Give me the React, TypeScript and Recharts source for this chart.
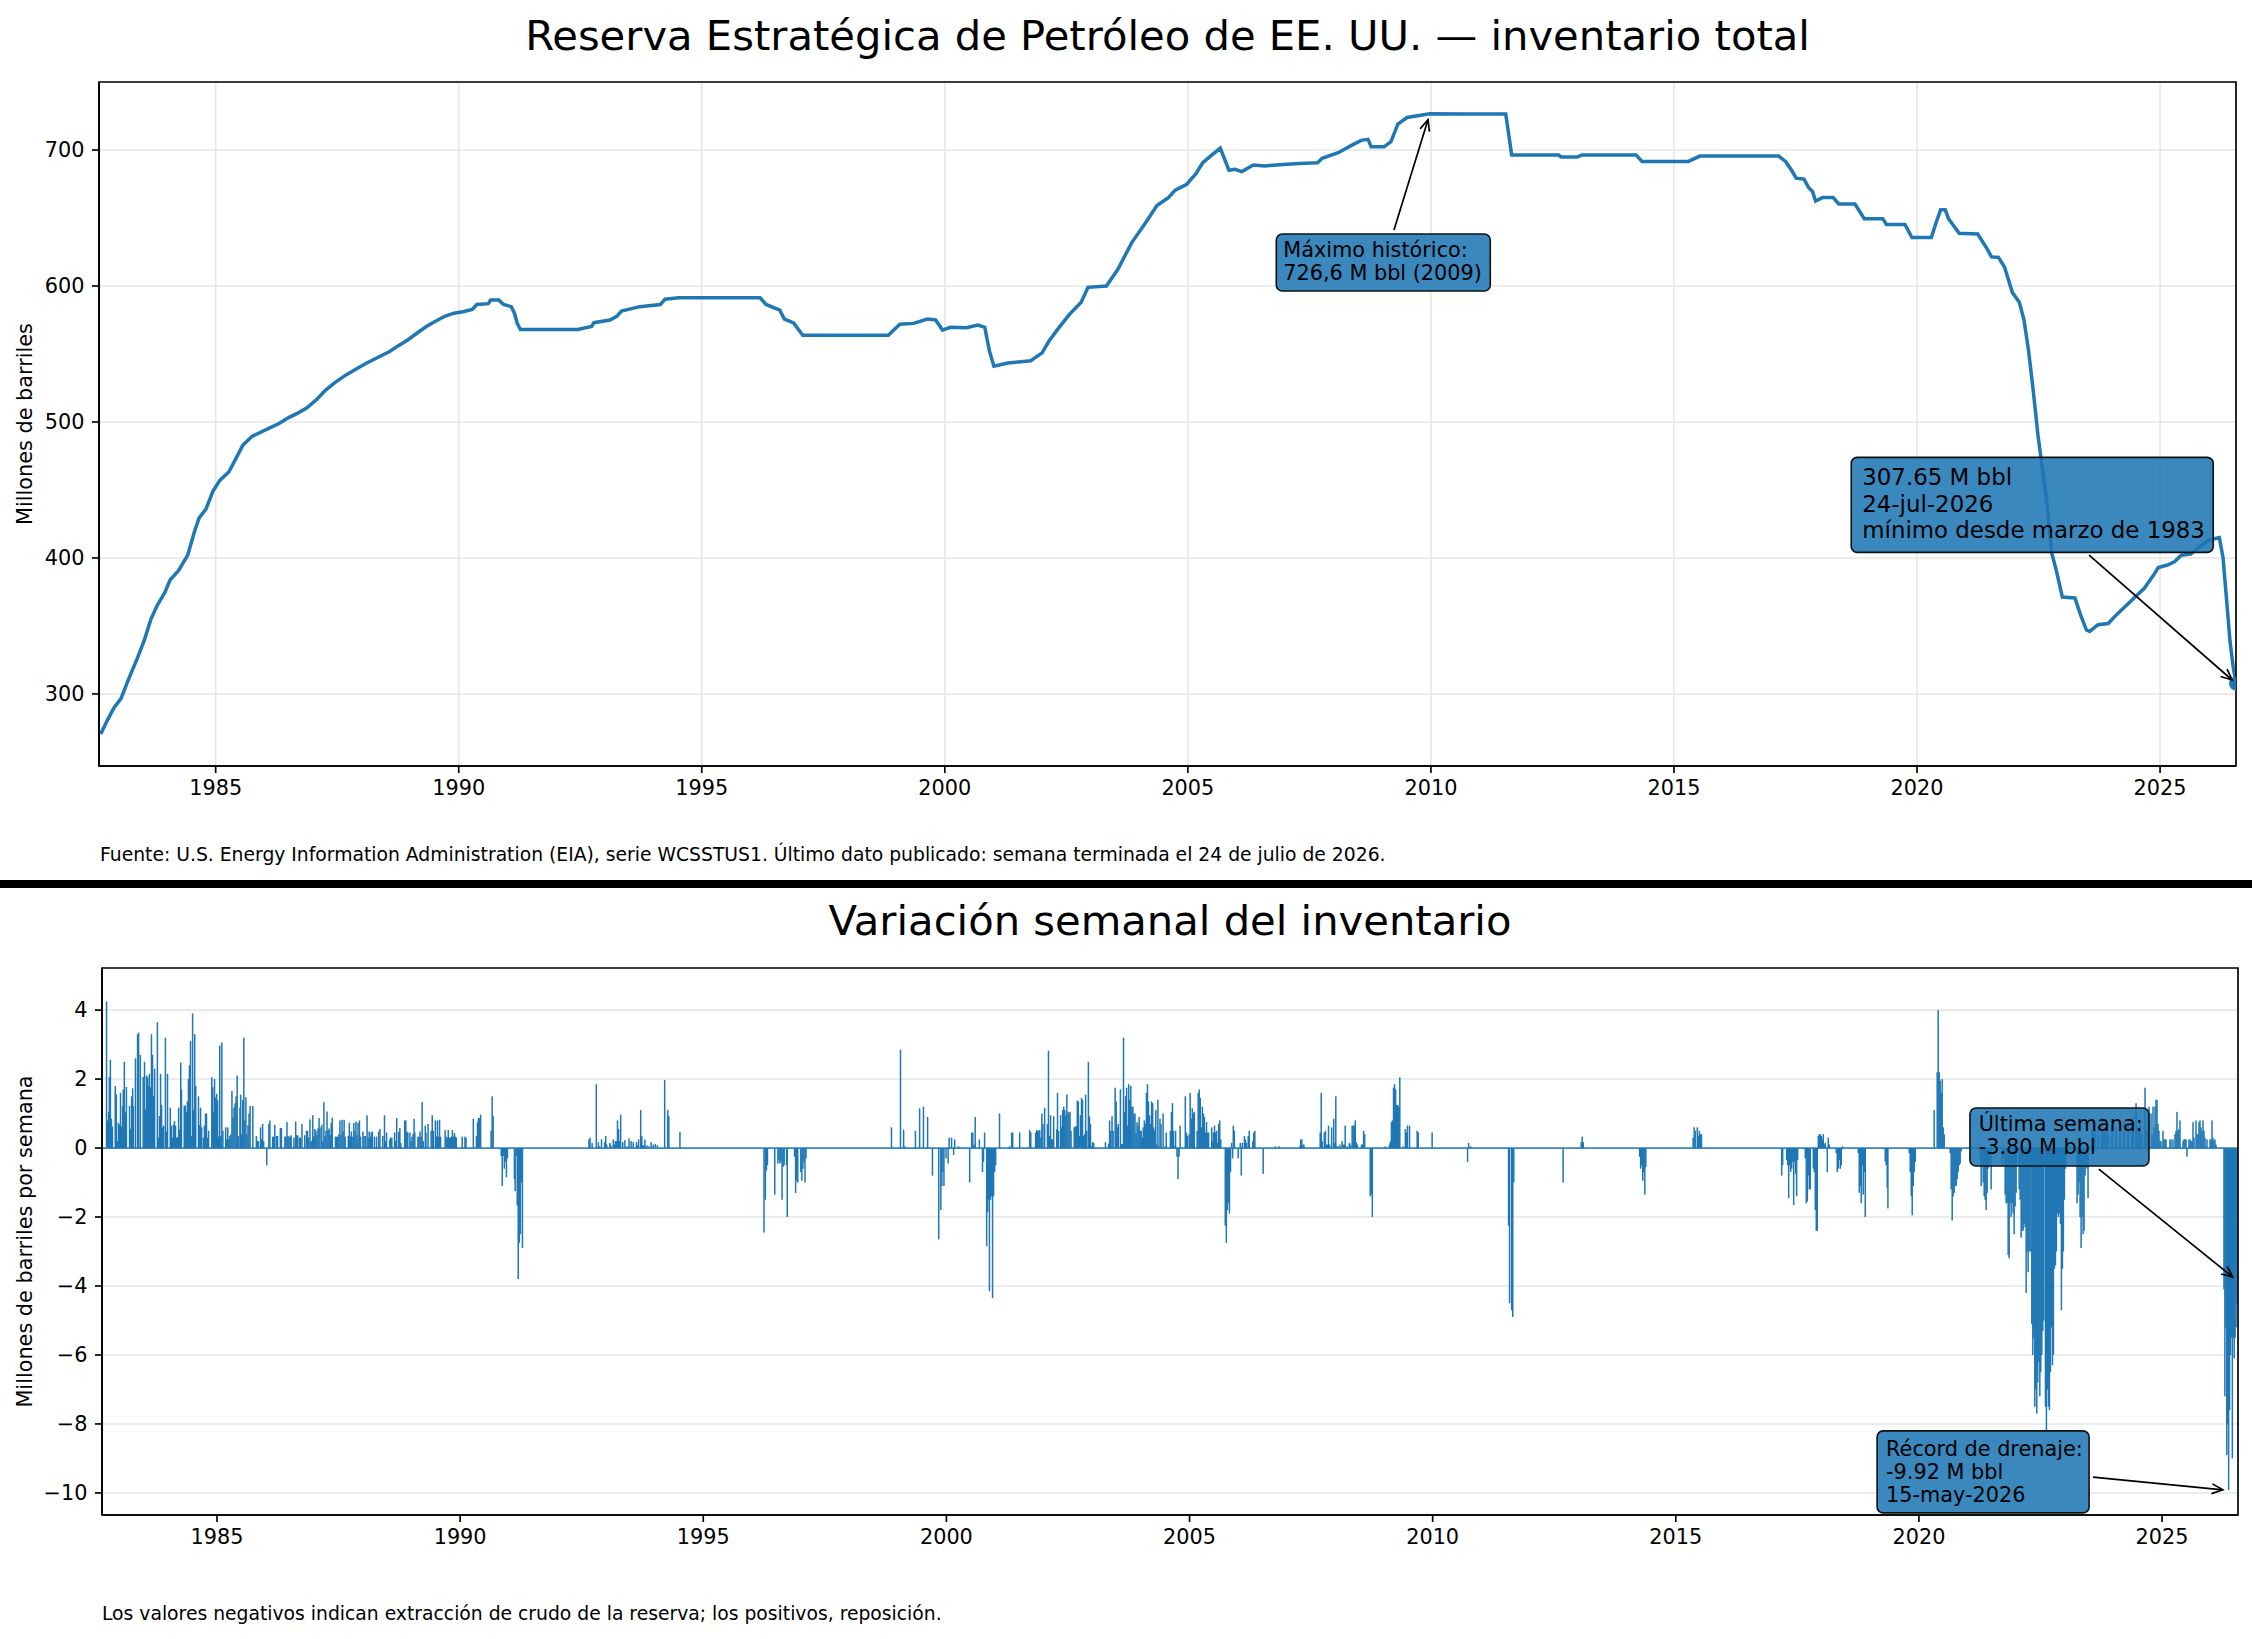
import {
  Bar,
  BarChart,
  CartesianGrid,
  Line,
  LineChart,
  ReferenceArea,
  ReferenceDot,
  ReferenceLine,
  XAxis,
  YAxis,
} from 'recharts';

/**
 * Reserva Estratégica de Petróleo de EE. UU.: inventario total (línea) y
 * variación semanal (barras).
 */

// ---------------------------------------------------------------------------
// Inventario total, millones de barriles: [año decimal, valor]
// ---------------------------------------------------------------------------
const INVENTARIO_1982_1991: [number, number][] = [
  [1982.636, 270.5], [1982.771, 280.6], [1982.913, 290], [1983.055, 296.8], [1983.196, 309.7],
  [1983.385, 326], [1983.527, 339], [1983.669, 355], [1983.791, 364.7], [1983.952, 374.4],
  [1984.065, 384], [1984.235, 390.6], [1984.424, 402], [1984.566, 419.7], [1984.66, 429.4],
  [1984.802, 436], [1984.943, 449], [1985.085, 457], [1985.274, 463.4], [1985.415, 473],
  [1985.557, 482.8], [1985.746, 489.3], [1985.935, 492.6], [1986.124, 495.8], [1986.313, 499],
  [1986.501, 503.2], [1986.69, 506.5], [1986.879, 510.4], [1987.068, 516.2], [1987.257, 523.3],
  [1987.446, 528.8], [1987.682, 534.6], [1987.918, 539.5], [1988.107, 543.4], [1988.343, 547.6],
  [1988.579, 551.8], [1988.768, 556.3], [1988.957, 560.5], [1989.145, 565.4], [1989.334, 570.2],
  [1989.523, 574.1], [1989.712, 577.7], [1989.901, 580], [1990.09, 581], [1990.279, 582.8],
  [1990.373, 586.4], [1990.609, 587], [1990.656, 589.6], [1990.826, 589.6], [1990.921, 586.4],
  [1991.081, 584.8], [1991.147, 580], [1991.204, 572.5], [1991.27, 568],
];

const INVENTARIO_1992_2001: [number, number][] = [
  [1992.45, 568], [1992.734, 570.2], [1992.781, 573], [1993.111, 575], [1993.253, 577.7],
  [1993.347, 581.6], [1993.725, 584.8], [1994.15, 586.4], [1994.245, 590.3], [1994.528, 591.3],
  [1996.199, 591.3], [1996.322, 586.4], [1996.605, 582.2], [1996.7, 575.7], [1996.889, 572.8],
  [1997.077, 563.8], [1998.839, 563.8], [1998.933, 567], [1999.075, 571.8], [1999.358, 572.5],
  [1999.641, 575.7], [1999.811, 575], [1999.953, 567.6], [2000.113, 569.6], [2000.444, 569.3],
  [2000.68, 571.2], [2000.822, 569.6], [2000.916, 552.4], [2001.01, 541],
];

const INVENTARIO_2001_2012: [number, number][] = [
  [2001.294, 543.4], [2001.766, 545], [2002.002, 550.8], [2002.144, 559.5], [2002.332, 568.6],
  [2002.568, 579.3], [2002.805, 588], [2002.946, 599], [2003.324, 600], [2003.56, 612.3],
  [2003.843, 631.7], [2004.127, 646.3], [2004.363, 659.2], [2004.599, 665], [2004.74, 670.5],
  [2004.976, 674.8], [2005.165, 682.5], [2005.307, 690.6], [2005.496, 696.4], [2005.666, 701.3],
  [2005.845, 685.1], [2005.968, 685.8], [2006.11, 684.1], [2006.346, 689], [2006.582, 688.3],
  [2006.959, 689.3], [2007.29, 690], [2007.668, 690.6], [2007.762, 693.9], [2008.093, 698],
  [2008.376, 703.6], [2008.565, 707.1], [2008.706, 707.8], [2008.772, 702.3], [2009.037, 702.3],
  [2009.178, 706.1], [2009.32, 719], [2009.509, 723.9], [2009.792, 725.6], [2009.97, 726.6],
  [2010.737, 726.5], [2011.539, 726.5], [2011.662, 696.4],
];

const INVENTARIO_2012_2020: [number, number][] = [
  [2012.629, 696.4], [2012.676, 694.8], [2013.01, 694.8], [2013.105, 696.4], [2014.219, 696.4],
  [2014.343, 691.6], [2015.295, 691.6], [2015.533, 695.5], [2017.152, 695.5], [2017.295, 691.6],
  [2017.419, 685.1], [2017.514, 679.3], [2017.676, 678.6], [2017.771, 672.2], [2017.848, 669.6],
  [2017.914, 662.5], [2018.057, 665], [2018.276, 665], [2018.39, 660.2], [2018.724, 660.2],
  [2018.914, 649.5], [2019.295, 649.5], [2019.371, 645.3], [2019.752, 645.3], [2019.895, 635.6],
  [2020.295, 635.6],
];

const INVENTARIO_2020_2026: [number, number][] = [
  [2020.39, 646.3], [2020.486, 656], [2020.581, 656], [2020.648, 649.5], [2020.867, 638.8],
  [2021.248, 638.2], [2021.438, 627.5], [2021.533, 621.4], [2021.676, 621], [2021.8, 613.9],
  [2021.962, 595.1], [2022.105, 588], [2022.2, 575.1], [2022.295, 552.4], [2022.39, 523.3],
  [2022.486, 491], [2022.581, 465], [2022.676, 439.2], [2022.771, 403.6], [2022.867, 390.6],
  [2022.99, 371.2], [2023.248, 370.6], [2023.362, 358.3], [2023.486, 347], [2023.552, 346],
  [2023.724, 350.9], [2023.933, 351.8], [2024.105, 358.3], [2024.39, 368], [2024.676, 377.7],
  [2024.867, 387.4], [2024.962, 392.9], [2025.152, 394.8], [2025.295, 397.1], [2025.438, 402],
  [2025.629, 402.9], [2025.819, 408.4], [2026.01, 413.3], [2026.219, 414.9], [2026.295, 400.3],
  [2026.371, 368], [2026.438, 338.9], [2026.505, 319.6], [2026.562, 307.65],
];

// ---------------------------------------------------------------------------
// Variación semanal, millones de barriles por semana: [año decimal, valor]
// ---------------------------------------------------------------------------
const VARIACION_1982_1985: [number, number][] = [
  [1982.729, 4.25], [1982.751, 0.8], [1982.772, 1.05], [1982.787, 2.06], [1982.808, 2.56],
  [1982.83, 0.85], [1982.851, 0.62], [1982.908, 1.8], [1982.93, 1.55], [1982.951, 0.2],
  [1982.973, 0.73], [1982.994, 0.68], [1983.016, 1.6], [1983.037, 0.63], [1983.059, 1.22],
  [1983.073, 1.7], [1983.095, 2.5], [1983.116, 1.03], [1983.138, 1.77], [1983.202, 1.22],
  [1983.216, 0.56], [1983.245, 1.5], [1983.267, 1.73], [1983.281, 1.22], [1983.324, 2.6],
  [1983.367, 3.3], [1983.388, 3.35], [1983.424, 2.7], [1983.482, 2.06], [1983.51, 2.5],
  [1983.532, 1.12], [1983.553, 2.1], [1983.575, 2.05], [1983.589, 1.8], [1983.61, 2.15],
  [1983.632, 1.76], [1983.653, 3.3], [1983.675, 2.7], [1983.696, 1.5], [1983.718, 2.3],
  [1983.775, 3.65], [1983.797, 0.3], [1983.818, 0.93], [1983.84, 2.15], [1983.861, 1.25],
  [1983.883, 0.6], [1983.904, 0.65], [1983.94, 3.2], [1983.961, 0.48], [1983.983, 2.15],
  [1984.04, 1.17], [1984.062, 0.65], [1984.083, 0.3], [1984.105, 0.68], [1984.126, 0.78],
  [1984.148, 0.65], [1984.169, 0.3], [1984.191, 0.32], [1984.212, 1.17], [1984.234, 0.53],
  [1984.255, 2.48], [1984.27, 1.7], [1984.327, 1.23], [1984.348, 1.23], [1984.37, 1.05],
  [1984.391, 1.35], [1984.413, 2.0], [1984.434, 2.4], [1984.456, 3.1], [1984.477, 0.35],
  [1984.499, 3.9], [1984.52, 1.1], [1984.542, 3.3], [1984.563, 1.8], [1984.62, 1.5],
  [1984.642, 0.67], [1984.663, 1.17], [1984.685, 0.6], [1984.721, 0.3], [1984.742, 0.65],
  [1984.764, 1.0], [1984.785, 1.0], [1984.807, 0.3], [1984.828, 0.5], [1984.893, 2.05],
  [1984.914, 1.76], [1984.928, 1.05], [1984.95, 2.0], [1984.971, 1.47], [1984.993, 1.57],
];

const VARIACION_1985_1990: [number, number][] = [
  [1985.014, 1.38], [1985.036, 0.33], [1985.057, 2.97], [1985.079, 0.35], [1985.1, 3.06],
  [1985.122, 0.5], [1985.179, 0.6], [1985.201, 0.25], [1985.222, 0.6], [1985.244, 0.25],
  [1985.265, 0.35], [1985.287, 0.4], [1985.308, 1.65], [1985.33, 0.9], [1985.351, 1.18],
  [1985.372, 1.3], [1985.394, 1.5], [1985.415, 2.1], [1985.437, 0.35], [1985.473, 1.17],
  [1985.487, 1.55], [1985.509, 0.4], [1985.53, 1.4], [1985.552, 3.2], [1985.573, 0.8],
  [1985.595, 1.47], [1985.616, 0.4], [1985.638, 0.66], [1985.659, 1.0], [1985.681, 1.22],
  [1985.738, 1.22], [1985.81, 0.35], [1985.831, 0.2], [1985.852, 0.2], [1985.896, 0.6],
  [1985.917, 0.25], [1985.939, 0.7], [1985.96, 0.2], [1986.024, -0.5], [1986.067, 0.7],
  [1986.089, 0.8], [1986.146, 0.33], [1986.168, 0.33], [1986.189, 0.67], [1986.225, 0.35],
  [1986.246, 0.35], [1986.304, 0.58], [1986.325, 0.58], [1986.397, 0.33], [1986.418, 0.33],
  [1986.44, 0.75], [1986.461, 0.35], [1986.483, 0.33], [1986.504, 0.33], [1986.526, 0.37],
  [1986.583, 0.3], [1986.619, 0.77], [1986.64, 0.37], [1986.662, 0.37], [1986.698, 0.3],
  [1986.719, 0.3], [1986.748, 0.7], [1986.805, 0.37], [1986.841, 0.5], [1986.863, 0.5],
  [1986.884, 0.3], [1986.913, 0.83], [1986.934, 0.2], [1986.949, 0.2], [1986.97, 0.95],
  [1986.991, 0.33], [1987.013, 0.55], [1987.034, 0.5], [1987.056, 0.38], [1987.077, 0.57],
  [1987.099, 0.87], [1987.12, 0.6], [1987.156, 0.67], [1987.178, 0.2], [1987.199, 1.33],
  [1987.221, 0.35], [1987.242, 0.5], [1987.264, 1.06], [1987.285, 0.52], [1987.307, 0.57],
  [1987.328, 0.38], [1987.35, 0.73], [1987.371, 0.88], [1987.436, 0.33], [1987.457, 0.33],
  [1987.479, 0.33], [1987.507, 0.4], [1987.529, 0.8], [1987.55, 0.38], [1987.572, 0.82],
  [1987.593, 0.48], [1987.615, 0.82], [1987.636, 0.33], [1987.701, 0.35], [1987.722, 0.73],
  [1987.743, 0.33], [1987.765, 0.48], [1987.794, 0.33], [1987.815, 0.73], [1987.837, 0.5],
  [1987.858, 0.77], [1987.88, 0.38], [1987.901, 0.73], [1987.93, 0.8], [1987.951, 0.33],
  [1988.001, 0.48], [1988.023, 0.35], [1988.052, 0.35], [1988.087, 0.95], [1988.109, 0.3],
  [1988.13, 0.48], [1988.152, 0.33], [1988.173, 0.45], [1988.195, 0.48], [1988.238, 0.33],
  [1988.281, 0.33], [1988.324, 0.48], [1988.352, 0.55], [1988.41, 0.35], [1988.445, 0.95],
  [1988.467, 0.2], [1988.488, 0.45], [1988.553, 0.25], [1988.574, 0.3], [1988.596, 0.3],
  [1988.653, 0.45], [1988.675, 0.2], [1988.696, 0.87], [1988.739, 0.47], [1988.761, 0.58],
  [1988.782, 0.15], [1988.861, 0.8], [1988.883, 0.8], [1988.904, 0.48], [1988.925, 0.45],
  [1988.968, 0.45], [1988.99, 0.2], [1989.011, 0.33], [1989.033, 0.4], [1989.054, 0.85],
  [1989.069, 0.45], [1989.133, 0.33], [1989.155, 0.33], [1989.176, 0.48], [1989.198, 0.33],
  [1989.219, 1.33], [1989.241, 0.2], [1989.284, 0.65], [1989.298, 0.45], [1989.341, 0.7],
  [1989.405, 0.5], [1989.427, 0.95], [1989.448, 0.5], [1989.491, 0.8], [1989.513, 0.33],
  [1989.534, 0.8], [1989.556, 0.33], [1989.577, 0.82], [1989.599, 0.33], [1989.692, 0.52],
  [1989.713, 0.33], [1989.735, 0.3], [1989.756, 0.52], [1989.778, 0.3], [1989.799, 0.3],
  [1989.821, 0.33], [1989.842, 0.52], [1989.864, 0.33], [1989.885, 0.43], [1989.907, 0.33],
  [1989.921, 0.3],
];

const VARIACION_1990_1996: [number, number][] = [
  [1990.043, 0.33], [1990.1, 0.33], [1990.122, 0.3], [1990.272, 0.85], [1990.336, 0.35],
  [1990.358, 0.75], [1990.379, 0.87], [1990.401, 0.87], [1990.422, 0.97], [1990.637, 0.5],
  [1990.659, 1.5], [1990.68, 0.92], [1990.845, -0.23], [1990.867, -1.1], [1990.888, -0.23],
  [1990.91, -0.6], [1990.931, -0.4], [1990.953, -0.85], [1990.974, -0.3], [1991.117, -0.9],
  [1991.132, -1.25], [1991.153, -0.23], [1991.175, -1.67], [1991.196, -3.8], [1991.218, -2.75],
  [1991.239, -2.5], [1991.261, -1.0], [1991.282, -2.9], [1992.65, 0.25], [1992.672, 0.3],
  [1992.715, 0.15], [1992.801, 1.85], [1992.844, 0.17], [1992.865, 0.05], [1992.908, 0.25],
  [1992.973, 0.17], [1992.994, 0.35], [1993.015, 0.1], [1993.08, 0.15], [1993.101, 0.08],
  [1993.151, 0.25], [1993.173, 0.1], [1993.194, 0.2], [1993.216, 0.2], [1993.237, 0.8],
  [1993.259, 0.55], [1993.28, 0.2], [1993.302, 0.97], [1993.345, 0.17], [1993.388, 0.23],
  [1993.431, 0.05], [1993.474, 0.28], [1993.517, 0.2], [1993.56, 0.17], [1993.628, 0.17],
  [1993.65, 0.08], [1993.671, 0.25], [1993.714, 1.1], [1993.736, 0.35], [1993.757, 0.08],
  [1993.778, 0.08], [1993.8, 0.25], [1993.843, 0.08], [1993.886, 0.05], [1993.928, 0.17],
  [1993.971, 0.1], [1994.014, 0.12], [1994.057, 0.08], [1994.207, 1.97], [1994.271, 1.1],
  [1994.293, 0.92], [1994.521, 0.47],
];

const VARIACION_1996_2001: [number, number][] = [
  [1996.25, -2.45], [1996.278, -1.5], [1996.3, -0.65], [1996.321, -0.5], [1996.471, -1.35],
  [1996.536, -0.45], [1996.557, -0.35], [1996.578, -0.45], [1996.6, -0.4], [1996.621, -1.5],
  [1996.643, -0.55], [1996.664, -0.5], [1996.714, -0.5], [1996.728, -2.0], [1996.878, -0.25],
  [1996.9, -1.3], [1996.921, -0.95], [1996.943, -1.0], [1997.007, -0.7], [1997.028, -0.95],
  [1997.05, -0.6], [1997.071, -0.4], [1997.093, -1.0], [1997.114, -0.3], [1998.871, 0.6],
  [1999.057, 2.85], [1999.121, 0.53], [1999.15, 0.05], [1999.364, 0.5], [1999.45, 1.15],
  [1999.529, 1.2], [1999.614, 0.9], [1999.714, -0.8], [1999.843, -2.65], [1999.886, -1.8],
  [1999.907, -1.1], [1999.929, -0.7], [1999.95, -1.1], [1999.993, -0.3], [2000.036, -0.45],
  [2000.057, 0.3], [2000.107, 0.3], [2000.15, -0.2], [2000.171, 0.25], [2000.25, 0.05],
  [2000.479, -1.0], [2000.521, 0.45], [2000.543, 0.45], [2000.571, 0.1], [2000.593, 0.9],
  [2000.679, 0.25], [2000.743, -0.7], [2000.764, -0.4], [2000.786, 0.45], [2000.829, -2.85],
  [2000.85, -1.85], [2000.871, -1.5], [2000.886, -4.15], [2000.907, -1.5], [2000.929, -1.4],
  [2000.95, -4.35], [2000.971, -1.4], [2000.993, -0.7], [2001.014, -0.5], [2001.093, 1.0],
];

const VARIACION_2001_2005: [number, number][] = [
  [2001.3, 0.05], [2001.343, 0.45], [2001.364, 0.45], [2001.507, 0.45], [2001.714, 0.52],
  [2001.736, 0.45], [2001.836, 0.45], [2001.857, 0.52], [2001.879, 0.5], [2001.9, 0.5],
  [2001.921, 0.52], [2001.943, 0.3], [2001.964, 1.0], [2001.986, 0.7], [2002.021, 1.17],
  [2002.079, 0.7], [2002.1, 2.82], [2002.121, 0.35], [2002.143, 0.95], [2002.164, 0.25],
  [2002.186, 0.25], [2002.207, 0.92], [2002.271, 0.55], [2002.286, 1.6], [2002.307, 0.5],
  [2002.35, 0.95], [2002.371, 0.6], [2002.393, 1.1], [2002.414, 1.2], [2002.436, 1.1],
  [2002.457, 0.95], [2002.478, 1.55], [2002.5, 1.05], [2002.521, 1.0], [2002.543, 1.05],
  [2002.564, 0.5], [2002.629, 0.6], [2002.65, 0.62], [2002.671, 0.63], [2002.693, 1.37],
  [2002.714, 1.35], [2002.736, 0.35], [2002.757, 0.95], [2002.779, 1.45], [2002.8, 1.4],
  [2002.821, 0.35], [2002.843, 0.4], [2002.864, 1.55], [2002.886, 0.5], [2002.921, 2.5],
  [2002.943, 0.92], [2002.964, 0.7], [2002.986, 0.05], [2003.007, 0.17], [2003.029, 0.15],
  [2003.271, 0.17], [2003.336, 0.12], [2003.357, 0.8], [2003.379, 0.5], [2003.407, 0.92],
  [2003.429, 0.5], [2003.471, 1.75], [2003.493, 1.35], [2003.514, 0.6], [2003.536, 0.7],
  [2003.579, 1.7], [2003.6, 0.12], [2003.621, 0.12], [2003.643, 3.2], [2003.664, 1.05],
  [2003.686, 1.5], [2003.707, 1.75], [2003.729, 0.65], [2003.75, 1.85], [2003.771, 1.4],
  [2003.793, 1.8], [2003.814, 1.2], [2003.836, 1.2], [2003.857, 1.0], [2003.879, 1.0],
  [2003.9, 0.42], [2003.921, 0.75], [2003.943, 0.65], [2003.964, 0.9], [2003.986, 0.5],
  [2004.007, 0.5], [2004.029, 0.3], [2004.05, 0.6], [2004.071, 0.8], [2004.093, 0.7],
  [2004.114, 1.6], [2004.136, 1.85], [2004.157, 1.35], [2004.179, 0.95], [2004.2, 0.7],
  [2004.221, 1.35], [2004.243, 1.3], [2004.264, 0.6], [2004.286, 0.5], [2004.307, 1.1],
  [2004.329, 0.1], [2004.35, 1.4], [2004.371, 0.05], [2004.393, 0.85], [2004.414, 0.7],
  [2004.457, 1.0], [2004.5, 0.05], [2004.521, 0.45], [2004.607, 0.5], [2004.629, 1.05],
  [2004.65, 1.3], [2004.671, 0.5], [2004.693, 0.05], [2004.714, 0.5],
];

const VARIACION_2005_2011: [number, number][] = [
  [2004.743, -0.25], [2004.764, -0.9], [2004.786, -0.25], [2004.807, 0.65], [2004.914, 1.5],
  [2004.936, 0.45], [2004.957, 0.35], [2004.993, 0.4], [2005.014, 1.6], [2005.036, 0.85],
  [2005.057, 1.15], [2005.079, 1.0], [2005.1, 1.05], [2005.157, 0.5], [2005.179, 1.6],
  [2005.2, 1.7], [2005.222, 1.45], [2005.243, 0.6], [2005.265, 1.2], [2005.286, 1.0],
  [2005.307, 0.9], [2005.329, 0.45], [2005.35, 0.75], [2005.372, 0.45], [2005.393, 0.45],
  [2005.457, 0.6], [2005.479, 0.2], [2005.493, 0.45], [2005.515, 0.65], [2005.536, 0.45],
  [2005.558, 0.5], [2005.579, 0.15], [2005.6, 0.7], [2005.622, 0.8], [2005.643, 0.25],
  [2005.736, -2.25], [2005.758, -2.75], [2005.779, -1.8], [2005.8, -1.6], [2005.822, -1.9],
  [2005.843, -0.7], [2005.865, 0.15], [2005.886, -0.3], [2005.901, 0.65], [2005.922, 0.5],
  [2006.001, -0.3], [2006.044, 0.15], [2006.065, -0.8], [2006.087, 0.15], [2006.13, 0.35],
  [2006.151, 0.25], [2006.172, 0.15], [2006.208, 0.35], [2006.229, 0.5], [2006.301, 0.2],
  [2006.322, 0.45], [2006.344, 0.5], [2006.515, -0.75], [2006.766, 0.05], [2006.844, 0.05],
  [2007.266, 0.05], [2007.287, 0.25], [2007.309, 0.25], [2007.33, 0.1], [2007.352, 0.1],
  [2007.688, 0.45], [2007.709, 1.6], [2007.73, 0.2], [2007.773, 0.45], [2007.795, 0.5],
  [2007.816, 0.1], [2007.838, 0.1], [2007.859, 0.65], [2007.881, 0.1], [2007.924, 0.6],
  [2007.966, 0.85], [2007.988, 0.15], [2008.009, 1.5], [2008.031, 0.05], [2008.052, 0.05],
  [2008.095, 0.1], [2008.138, 0.2], [2008.159, 0.1], [2008.181, 0.1], [2008.202, 0.65],
  [2008.245, 0.05], [2008.288, 0.15], [2008.31, 0.1], [2008.345, 0.65], [2008.367, 0.65],
  [2008.388, 0.65], [2008.409, 0.8], [2008.431, 0.17], [2008.452, 0.1], [2008.538, 0.1],
  [2008.56, 0.1], [2008.581, 0.5], [2008.603, 0.4], [2008.717, -1.4], [2008.738, -1.35],
  [2008.76, -2.0], [2009.024, 0.05], [2009.11, 0.1], [2009.132, 0.2], [2009.153, 0.75],
  [2009.174, 0.8], [2009.196, 1.75], [2009.217, 1.85], [2009.239, 1.7], [2009.26, 1.25],
  [2009.282, 1.25], [2009.303, 1.2], [2009.325, 2.05], [2009.396, 0.05], [2009.439, 0.55],
  [2009.46, 0.45], [2009.482, 0.65], [2009.525, 0.65], [2009.682, 0.5], [2009.704, 0.45],
  [2009.99, 0.45], [2010.719, -0.4], [2010.74, 0.15], [2010.783, 0.05],
];

const VARIACION_2011_2019: [number, number][] = [
  [2011.562, -2.25], [2011.583, -4.5], [2011.626, -4.7], [2011.648, -4.9], [2011.669, -1.0],
  [2012.684, -1.0], [2013.055, 0.17], [2013.077, 0.33], [2013.099, 0.17], [2014.257, -0.25],
  [2014.278, -0.6], [2014.3, -0.5], [2014.321, -0.95], [2014.342, -0.7], [2014.364, -1.35],
  [2014.385, -0.55], [2015.357, 0.3], [2015.379, 0.6], [2015.4, 0.5], [2015.443, 0.6],
  [2015.465, 0.35], [2015.486, 0.5], [2015.507, 0.4], [2015.529, 0.4], [2017.178, -0.8],
  [2017.199, -0.5], [2017.281, -0.35], [2017.301, -0.5], [2017.322, -1.45], [2017.342, -0.5],
  [2017.363, -0.7], [2017.384, -0.6], [2017.404, -0.4], [2017.425, -1.65], [2017.445, -0.4],
  [2017.466, -0.75], [2017.486, -1.4], [2017.507, -0.35], [2017.664, -0.3], [2017.685, -1.6],
  [2017.706, -1.55], [2017.726, -0.8], [2017.747, -1.2], [2017.767, -1.2], [2017.829, -0.6],
  [2017.849, -0.7], [2017.87, -1.8], [2017.89, -2.4], [2017.911, -2.4], [2017.932, 0.35],
  [2017.952, 0.4], [2017.973, 0.4], [2017.993, 0.35], [2018.014, 0.25], [2018.034, 0.4],
  [2018.055, 0.1], [2018.075, 0.15], [2018.116, -0.7], [2018.137, 0.3], [2018.158, 0.1],
  [2018.301, -0.15], [2018.322, -0.7], [2018.342, -0.6], [2018.363, -0.35], [2018.384, -0.6],
  [2018.404, -0.5], [2018.432, 0.05], [2018.754, -0.15], [2018.774, -1.3], [2018.795, -1.1],
  [2018.815, -1.6], [2018.836, -0.5], [2018.856, -1.35], [2018.877, -0.7], [2018.897, -2.0],
];

const VARIACION_2019_2023: [number, number][] = [
  [2019.308, -0.4], [2019.329, -0.5], [2019.349, -1.15], [2019.363, -1.75], [2019.801, -0.15],
  [2019.822, -0.7], [2019.843, -1.4], [2019.863, -1.95], [2019.884, -1.1], [2019.904, -0.7],
  [2019.925, -0.4], [2020.315, 1.1], [2020.377, 2.2], [2020.397, 4.0], [2020.418, 2.2],
  [2020.438, 1.95], [2020.459, 1.6], [2020.479, 2.0], [2020.5, 0.6], [2020.521, 0.4],
  [2020.644, -0.15], [2020.664, -1.2], [2020.685, -2.1], [2020.705, -1.4], [2020.726, -1.3],
  [2020.747, -1.1], [2020.767, -1.1], [2020.788, -0.9], [2020.808, -0.7], [2020.829, -0.5],
  [2020.849, -0.45], [2020.87, -0.1], [2021.26, -0.3], [2021.281, -1.1], [2021.301, -0.5],
  [2021.322, -1.0], [2021.343, -1.4], [2021.363, -1.5], [2021.384, -1.8], [2021.404, -1.3],
  [2021.425, -0.6], [2021.445, -0.5], [2021.486, -1.2], [2021.712, -0.5], [2021.733, -0.3],
  [2021.774, -1.35], [2021.794, -1.6], [2021.815, -1.6], [2021.836, -3.1], [2021.856, -3.2],
  [2021.877, -1.6], [2021.897, -2.0], [2021.918, -1.6], [2021.938, -1.9], [2021.959, -2.5],
  [2021.979, -1.7], [2022.0, -1.3], [2022.062, -1.2], [2022.082, -1.5], [2022.103, -2.6],
  [2022.123, -2.4], [2022.144, -2.4], [2022.164, -2.2], [2022.185, -2.3], [2022.206, -4.2],
  [2022.226, -3.0], [2022.247, -3.6], [2022.267, -3.0], [2022.288, -3.0], [2022.322, -5.1],
  [2022.343, -6.0], [2022.363, -5.5], [2022.384, -7.5], [2022.404, -7.0], [2022.425, -7.7],
  [2022.445, -6.8], [2022.466, -6.2], [2022.487, -7.2], [2022.507, -6.5], [2022.528, -6.0],
  [2022.548, -5.3], [2022.569, -5.0], [2022.603, -7.5], [2022.623, -8.2], [2022.644, -7.0],
  [2022.664, -7.5], [2022.685, -7.6], [2022.705, -6.5], [2022.726, -5.2], [2022.747, -6.3],
  [2022.767, -6.0], [2022.788, -3.5], [2022.808, -3.4], [2022.829, -3.0], [2022.849, -1.9],
  [2022.87, -2.0], [2022.89, -1.9], [2022.911, -2.2], [2022.931, -4.7], [2022.952, -3.5],
  [2022.972, -3.0], [2022.993, -1.5], [2023.014, -0.6],
];

const VARIACION_2023_2026: [number, number][] = [
  [2023.253, -1.6], [2023.274, -1.35], [2023.294, -1.0], [2023.315, -2.0], [2023.336, -2.9],
  [2023.356, -2.0], [2023.377, -2.5], [2023.397, -2.4], [2023.418, -0.8], [2023.438, -0.4],
  [2023.459, -0.6], [2023.479, -1.45], [2023.562, 0.5], [2023.582, 0.8], [2023.623, 0.6],
  [2023.685, 0.6], [2023.767, 0.85], [2023.808, 0.5], [2023.849, 0.6], [2023.89, 0.4],
  [2023.972, 0.7], [2024.055, 0.6], [2024.137, 0.6], [2024.219, 0.75], [2024.302, 0.7],
  [2024.384, 0.65], [2024.404, 0.9], [2024.466, 1.3], [2024.507, 0.6], [2024.548, 0.8],
  [2024.589, 0.4], [2024.651, 1.75], [2024.671, 0.5], [2024.712, 1.0], [2024.733, 1.2],
  [2024.774, 1.0], [2024.794, 0.4], [2024.815, 1.2], [2024.836, 0.6], [2024.856, 1.2],
  [2024.877, 1.4], [2024.897, 1.4], [2024.918, 0.7], [2024.938, 0.5], [2024.959, 0.2],
  [2024.979, 0.2], [2025.02, 0.5], [2025.041, 0.25], [2025.062, 0.25], [2025.082, 0.25],
  [2025.164, 0.25], [2025.185, 0.25], [2025.226, 0.25], [2025.267, 0.4], [2025.288, 0.5],
  [2025.308, 1.05], [2025.329, 0.5], [2025.349, 0.55], [2025.37, 0.8], [2025.432, 0.2],
  [2025.452, 0.25], [2025.473, 0.25], [2025.493, 0.25], [2025.514, -0.25], [2025.555, 0.25],
  [2025.576, 0.25], [2025.596, 0.2], [2025.617, 0.2], [2025.637, 0.75], [2025.658, 0.3],
  [2025.699, 0.8], [2025.719, 0.4], [2025.74, 0.4], [2025.76, 0.75], [2025.781, 0.8],
  [2025.801, 0.6], [2025.822, 0.5], [2025.843, 0.8], [2025.863, 0.5], [2025.884, 0.3],
  [2025.925, 0.25], [2025.987, 0.25], [2026.007, 0.25], [2026.028, 0.8], [2026.048, 0.3],
  [2026.069, 0.2], [2026.089, 0.25], [2026.11, 0.1], [2026.274, -4.1], [2026.293, -7.2],
  [2026.313, -5.2], [2026.332, -8.9], [2026.351, -8.0], [2026.37, -9.92], [2026.389, -7.6],
  [2026.408, -6.0], [2026.427, -5.5], [2026.446, -9.0], [2026.466, -5.5], [2026.485, -6.1],
  [2026.504, -5.5], [2026.523, -5.2], [2026.542, -4.5], [2026.562, -3.8],
];

// Marcas de los ejes
const ANIOS_TICKS = [1985, 1990, 1995, 2000, 2005, 2010, 2015, 2020, 2025];
const INVENTARIO_TICKS = [300, 400, 500, 600, 700];
const VARIACION_TICKS = [-10, -8, -6, -4, -2, 0, 2, 4];

// Textos de las anotaciones
const NOTA_MAXIMO = ['Máximo histórico:', '726,6 M bbl (2009)'];
const NOTA_ULTIMO = ['307.65 M bbl', '24-jul-2026', 'mínimo desde marzo de 1983'];
const NOTA_SEMANA = ['Última semana:', '-3.80 M bbl'];
const NOTA_RECORD = ['Récord de drenaje:', '-9.92 M bbl', '15-may-2026'];

// ---------------------------------------------------------------------------
// Datos para Recharts
// ---------------------------------------------------------------------------
const inventario = [
  ...INVENTARIO_1982_1991,
  ...INVENTARIO_1992_2001,
  ...INVENTARIO_2001_2012,
  ...INVENTARIO_2012_2020,
  ...INVENTARIO_2020_2026,
].map(([t, v]) => ({ t, v }));

const variacion = [
  ...VARIACION_1982_1985,
  ...VARIACION_1985_1990,
  ...VARIACION_1990_1996,
  ...VARIACION_1996_2001,
  ...VARIACION_2001_2005,
  ...VARIACION_2005_2011,
  ...VARIACION_2011_2019,
  ...VARIACION_2019_2023,
  ...VARIACION_2023_2026,
].map(([t, v]) => ({ t, v }));

const maximo = inventario.reduce((a, b) => (b.v > a.v ? b : a));
const ultimo = inventario[inventario.length - 1];
const ultimaSemana = variacion[variacion.length - 1];
const record = variacion.reduce((a, b) => (b.v < a.v ? b : a));

// ---------------------------------------------------------------------------
// Estilo
// ---------------------------------------------------------------------------
const AZUL = '#1f77b4';
const FUENTE = '"DejaVu Sans", sans-serif';
const GRIS_REJILLA = '#e6e6e6';
const ANCHO_BARRA = 1.5;

const X_SUP: [number, number] = [1982.6, 2026.562];
const Y_SUP: [number, number] = [247, 750];
const X_INF: [number, number] = [1982.635, 2026.562];
const Y_INF: [number, number] = [-10.64, 5.22];

const estiloTick = { fill: '#000', fontSize: 20.8, fontFamily: FUENTE };
const lineaEje = { stroke: '#000', strokeWidth: 1.67 };

const menos = (v: number) => (v < 0 ? `\u2212${Math.abs(v)}` : `${v}`);

/** Caja redondeada con texto, centrada en el punto (cx, cy) que da ReferenceDot */
function cajaNota(
  lineas: string[],
  ancho: number,
  alto: number,
  fontSize: number,
  padX: number,
  base: number,
  interlinea: number,
) {
  return (p: any) => {
    const { cx, cy } = p;
    if (cx == null || cy == null) return <g />;
    const x0 = cx - ancho / 2;
    const y0 = cy - alto / 2;
    return (
      <g>
        <rect
          x={x0}
          y={y0}
          width={ancho}
          height={alto}
          rx={6}
          ry={6}
          fill={AZUL}
          fillOpacity={0.88}
          stroke="#111"
          strokeWidth={1.6}
        />
        {lineas.map((l, i) => (
          <text
            key={i}
            x={x0 + padX}
            y={y0 + base + i * interlinea}
            fontSize={fontSize}
            fontFamily={FUENTE}
            fill="#000"
          >
            {l}
          </text>
        ))}
      </g>
    );
  };
}

/** Flecha estilo "->" entre los dos extremos del segmento */
const flecha = (p: any) => {
  const { x1, y1, x2, y2 } = p;
  if ([x1, y1, x2, y2].some((v) => v == null || Number.isNaN(+v))) return <g />;
  const ang = Math.atan2(y2 - y1, x2 - x1);
  const largo = 12;
  const abre = 0.42;
  const ax = x2 - largo * Math.cos(ang - abre);
  const ay = y2 - largo * Math.sin(ang - abre);
  const bx = x2 - largo * Math.cos(ang + abre);
  const by = y2 - largo * Math.sin(ang + abre);
  return (
    <g>
      <line x1={x1} y1={y1} x2={x2} y2={y2} stroke="#000" strokeWidth={1.7} />
      <path d={`M${ax},${ay} L${x2},${y2} L${bx},${by}`} fill="none" stroke="#000" strokeWidth={1.7} />
    </g>
  );
};

/** Barra fina centrada en la fecha (ancho de una semana aprox.) */
const barraFina = (p: any) => {
  const { x, y, width, height } = p;
  if (x == null || y == null || !height) return <g />;
  const centro = x + (width || 0) / 2;
  const arriba = height < 0 ? y + height : y;
  return (
    <rect
      x={centro - ANCHO_BARRA / 2}
      y={arriba}
      width={ANCHO_BARRA}
      height={Math.abs(height)}
      fill={AZUL}
    />
  );
};

function GraficoInventario() {
  return (
    <LineChart
      width={2252}
      height={860}
      data={inventario}
      margin={{ top: 82, right: 16, bottom: 0, left: 0 }}
    >
      <CartesianGrid stroke={GRIS_REJILLA} strokeWidth={1.6} />
      <XAxis
        dataKey="t"
        type="number"
        domain={X_SUP}
        allowDataOverflow
        ticks={ANIOS_TICKS}
        interval={0}
        height={94}
        tick={estiloTick}
        tickLine={lineaEje}
        axisLine={lineaEje}
        tickSize={7}
        tickMargin={7.5}
      />
      <YAxis
        type="number"
        domain={Y_SUP}
        allowDataOverflow
        ticks={INVENTARIO_TICKS}
        interval={0}
        width={99}
        tick={estiloTick}
        tickLine={lineaEje}
        axisLine={lineaEje}
        tickSize={7}
        tickMargin={7.5}
      />
      <Line
        dataKey="v"
        stroke={AZUL}
        strokeWidth={3.5}
        dot={false}
        activeDot={false}
        isAnimationActive={false}
      />
      <ReferenceDot
        x={ultimo.t}
        y={ultimo.v}
        r={7}
        fill={AZUL}
        stroke="none"
        ifOverflow="hidden"
        zIndex={2500}
      />
      <ReferenceArea
        x1={X_SUP[0]}
        x2={X_SUP[1]}
        y1={Y_SUP[0]}
        y2={Y_SUP[1]}
        fill="none"
        stroke="#000"
        strokeWidth={1.67}
        fillOpacity={0}
        zIndex={2400}
      />
      <ReferenceLine
        segment={[{ x: 2009.24, y: 641.2 }, { x: maximo.t - 0.03, y: maximo.v - 4.4 }]}
        shape={flecha}
        zIndex={2600}
      />
      <ReferenceDot
        x={2009.02}
        y={617.3}
        r={1}
        shape={cajaNota(NOTA_MAXIMO, 214, 57, 20.8, 7, 23.5, 23)}
        zIndex={2700}
      />
      <ReferenceLine
        segment={[{ x: 2023.54, y: 402 }, { x: ultimo.t - 0.08, y: ultimo.v + 2.6 }]}
        shape={flecha}
        zIndex={2600}
      />
      <ReferenceDot
        x={2022.37}
        y={439}
        r={1}
        shape={cajaNota(NOTA_ULTIMO, 362, 95, 22.9, 11, 28, 26.2)}
        zIndex={2700}
      />
    </LineChart>
  );
}

function GraficoVariacion() {
  return (
    <BarChart
      width={2252}
      height={751}
      data={variacion}
      margin={{ top: 80, right: 14, bottom: 0, left: 0 }}
      barGap={0}
      barCategoryGap={0}
    >
      <CartesianGrid stroke={GRIS_REJILLA} strokeWidth={1.6} vertical={false} />
      <XAxis
        dataKey="t"
        type="number"
        domain={X_INF}
        allowDataOverflow
        ticks={ANIOS_TICKS}
        interval={0}
        height={124}
        tick={estiloTick}
        tickLine={lineaEje}
        axisLine={lineaEje}
        tickSize={7}
        tickMargin={7.5}
      />
      <YAxis
        type="number"
        domain={Y_INF}
        allowDataOverflow
        ticks={VARIACION_TICKS}
        interval={0}
        width={102}
        tick={estiloTick}
        tickLine={lineaEje}
        axisLine={lineaEje}
        tickSize={7}
        tickMargin={7.5}
        tickFormatter={menos}
      />
      <Bar dataKey="v" barSize={1} shape={barraFina} isAnimationActive={false} />
      <ReferenceLine y={0} stroke={AZUL} strokeOpacity={0.85} strokeWidth={1.7} zIndex={2300} />
      <ReferenceArea
        x1={X_INF[0]}
        x2={X_INF[1]}
        y1={Y_INF[0]}
        y2={Y_INF[1]}
        fill="none"
        stroke="#000"
        strokeWidth={1.67}
        fillOpacity={0}
        zIndex={2400}
      />
      <ReferenceLine
        segment={[{ x: 2023.7, y: -0.61 }, { x: ultimaSemana.t - 0.11, y: ultimaSemana.v + 0.06 }]}
        shape={flecha}
        zIndex={2600}
      />
      <ReferenceDot
        x={2022.89}
        y={0.32}
        r={1}
        shape={cajaNota(NOTA_SEMANA, 179, 58, 20.8, 8.7, 23, 23.5)}
        zIndex={2700}
      />
      <ReferenceLine
        segment={[{ x: 2023.58, y: -9.54 }, { x: record.t - 0.12, y: record.v + 0.01 }]}
        shape={flecha}
        zIndex={2600}
      />
      <ReferenceDot
        x={2021.32}
        y={-9.39}
        r={1}
        shape={cajaNota(NOTA_RECORD, 212, 82, 20.8, 9, 25, 23)}
        zIndex={2700}
      />
    </BarChart>
  );
}

export default function App() {
  return (
    <div
      style={{
        position: 'absolute',
        left: 0,
        top: 0,
        width: 2252,
        height: 1639,
        background: '#fff',
        overflow: 'hidden',
      }}
    >
      <div style={{ position: 'absolute', left: 0, top: 0 }}>
        <GraficoInventario />
      </div>
      <div style={{ position: 'absolute', left: 0, top: 888 }}>
        <GraficoVariacion />
      </div>
      {/* Títulos, etiquetas de eje, notas y separador */}
      <svg
        width={2252}
        height={1639}
        style={{ position: 'absolute', left: 0, top: 0, pointerEvents: 'none' }}
        fontFamily={FUENTE}
        fill="#000"
      >
        <text x={1167.5} y={50} textAnchor="middle" fontSize={41.7}>
          Reserva Estratégica de Petróleo de EE. UU. — inventario total
        </text>
        <text transform="translate(32,424) rotate(-90)" textAnchor="middle" fontSize={20.8}>
          Millones de barriles
        </text>
        <text x={100} y={861} fontSize={18.75}>
          Fuente: U.S. Energy Information Administration (EIA), serie WCSSTUS1. Último dato publicado: semana terminada el 24 de julio de 2026.
        </text>
        <rect x={0} y={880} width={2252} height={8} fill="#000" />
        <text x={1170} y={935} textAnchor="middle" fontSize={41.7}>
          Variación semanal del inventario
        </text>
        <text transform="translate(32,1241.5) rotate(-90)" textAnchor="middle" fontSize={20.8}>
          Millones de barriles por semana
        </text>
        <text x={102} y={1620} fontSize={18.75}>
          Los valores negativos indican extracción de crudo de la reserva; los positivos, reposición.
        </text>
      </svg>
    </div>
  );
}
